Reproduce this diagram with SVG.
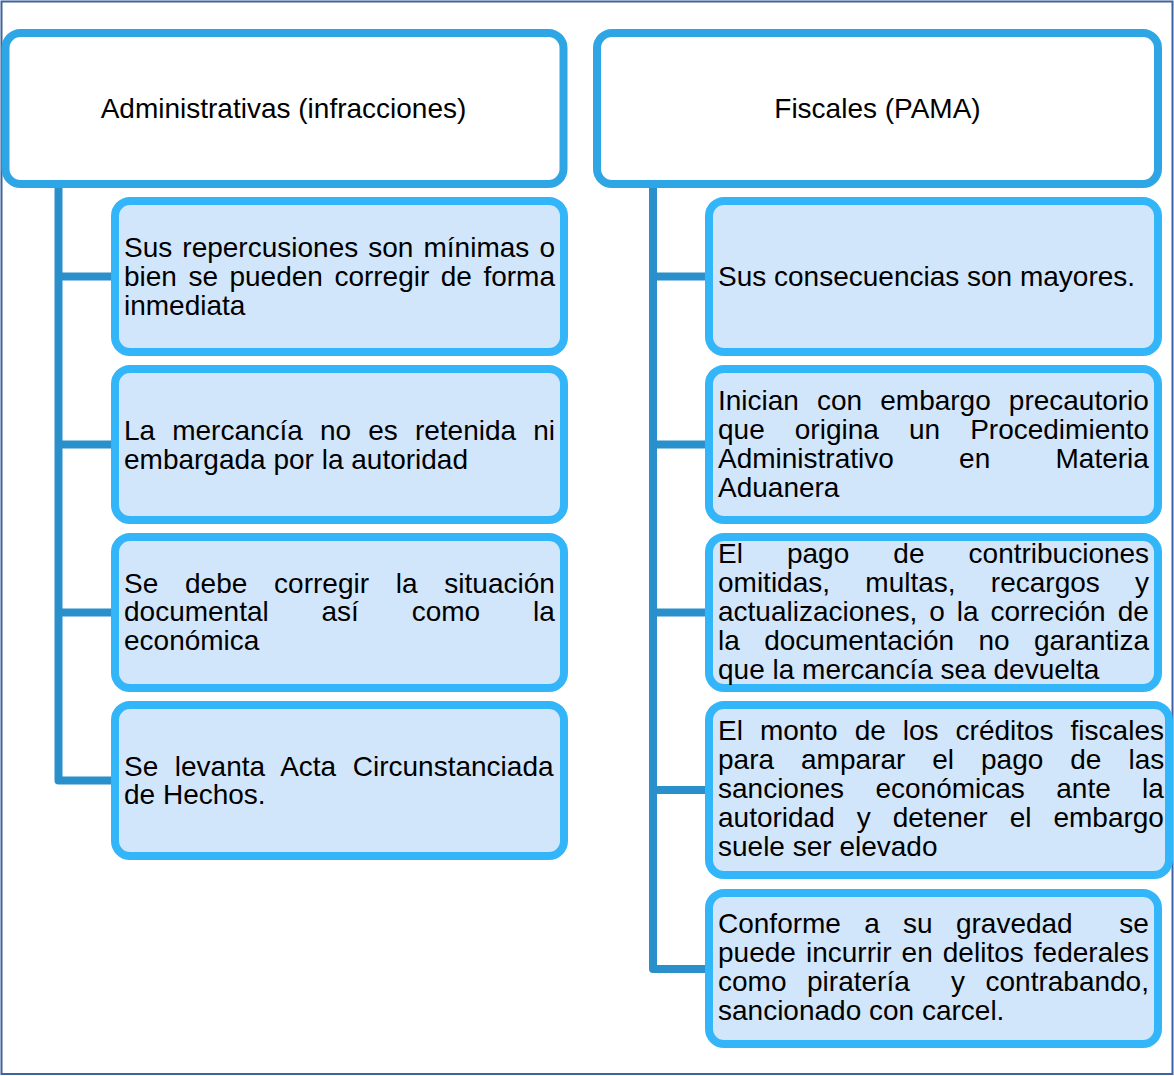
<svg xmlns="http://www.w3.org/2000/svg" width="1174" height="1076" viewBox="0 0 1174 1076">
<style>
.hdr{fill:#FFFFFF;stroke:#2EA6E6;stroke-width:8}
.box{fill:#D2E6FB;stroke:#33B5FA;stroke-width:8}
.con{fill:none;stroke:#2A90CC;stroke-width:8;stroke-linejoin:round}
text{font-family:"Liberation Sans",Arial,sans-serif;font-size:28px;fill:#000000}
.c{text-anchor:middle}
</style>
<rect x="1.5" y="1.5" width="1171" height="1072.5" fill="#FFFFFF" stroke="#3C64A0" stroke-width="2"/>
<g id="connectors">
<path class="con" d="M58.5,184 V780.5 H113 M58.5,276.5 H113 M58.5,444.5 H113 M58.5,612.5 H113"/>
<path class="con" d="M653,184 V969 H707 M653,276.5 H707 M653,444.5 H707 M653,612.5 H707 M653,790 H707"/>
</g>
<g id="header-left">
<rect class="hdr" x="5.5" y="33" width="558" height="151" rx="15"/>
<text class="c" x="283.5" y="118">Administrativas (infracciones)</text>
</g>
<g id="header-right">
<rect class="hdr" x="597" y="33" width="561" height="151" rx="15"/>
<text class="c" x="877.5" y="118">Fiscales (PAMA)</text>
</g>
<g id="left-1">
<rect class="box" x="115" y="201" width="449" height="151" rx="15"/>
<text x="124" y="257" word-spacing="2.3">Sus repercusiones son mínimas o</text>
<text x="124" y="286" word-spacing="3.7">bien se pueden corregir de forma</text>
<text x="124" y="315">inmediata</text>
</g>
<g id="left-2">
<rect class="box" x="115" y="369" width="449" height="151" rx="15"/>
<text x="124" y="440" word-spacing="9.3">La mercancía no es retenida ni</text>
<text x="124" y="469">embargada por la autoridad</text>
</g>
<g id="left-3">
<rect class="box" x="115" y="537" width="449" height="151" rx="15"/>
<text x="124" y="593" word-spacing="19">Se debe corregir la situación</text>
<text x="124" y="621" word-spacing="45">documental así como la</text>
<text x="124" y="650">económica</text>
</g>
<g id="left-4">
<rect class="box" x="115" y="705" width="449" height="151" rx="15"/>
<text x="124" y="776" word-spacing="8.8">Se levanta Acta Circunstanciada</text>
<text x="124" y="804">de Hechos.</text>
</g>
<g id="right-1">
<rect class="box" x="709" y="201" width="449" height="151" rx="15"/>
<text x="718" y="286">Sus consecuencias son mayores.</text>
</g>
<g id="right-2">
<rect class="box" x="709" y="369" width="449" height="151" rx="15"/>
<text x="718" y="410" word-spacing="10.3">Inician con embargo precautorio</text>
<text x="718" y="439" word-spacing="22.3">que origina un Procedimiento</text>
<text x="718" y="468" word-spacing="57.5">Administrativo en Materia</text>
<text x="718" y="497">Aduanera</text>
</g>
<g id="right-3">
<rect class="box" x="709" y="537" width="449" height="151" rx="15"/>
<text x="718" y="563" word-spacing="36.3">El pago de contribuciones</text>
<text x="718" y="592" word-spacing="27.5">omitidas, multas, recargos y</text>
<text x="718" y="621" word-spacing="4.2">actualizaciones, o la correción de</text>
<text x="718" y="650" word-spacing="16.6">la documentación no garantiza</text>
<text x="718" y="679">que la mercancía sea devuelta</text>
</g>
<g id="right-4">
<rect class="box" x="709" y="705" width="460" height="170" rx="15"/>
<text x="718" y="740" word-spacing="9.2">El monto de los créditos fiscales</text>
<text x="718" y="769" word-spacing="19.2">para amparar el pago de las</text>
<text x="718" y="798" word-spacing="23.6">sanciones económicas ante la</text>
<text x="718" y="827" word-spacing="14.2">autoridad y detener el embargo</text>
<text x="718" y="856">suele ser elevado</text>
</g>
<g id="right-5">
<rect class="box" x="709" y="893" width="449" height="151" rx="15"/>
<text x="718" y="933" word-spacing="15.5" xml:space="preserve">Conforme a su gravedad  se</text>
<text x="718" y="962" word-spacing="2.3">puede incurrir en delitos federales</text>
<text x="718" y="991" word-spacing="12.8" xml:space="preserve">como piratería  y contrabando,</text>
<text x="718" y="1020">sancionado con carcel.</text>
</g>
</svg>
